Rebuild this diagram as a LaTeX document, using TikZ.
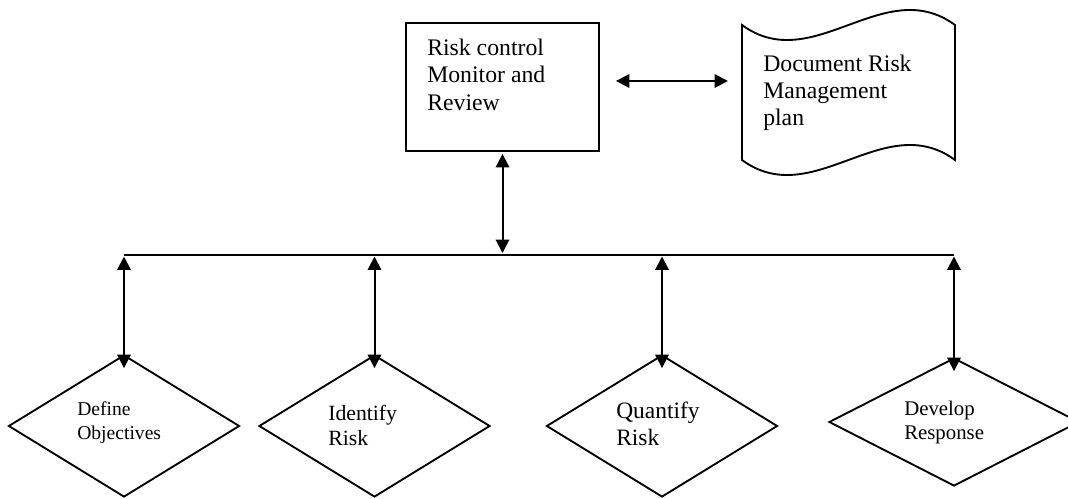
\documentclass[tikz,border=0pt]{standalone}
\usepackage{fontspec}
\setmainfont{Liberation Serif}
\usetikzlibrary{arrows.meta, positioning, shapes.geometric, calc}

\tikzset{
  flowline/.style={line width=1.5pt, line join=round},
  twoway/.style={flowline, {Triangle[length=10pt,width=10pt]}-{Triangle[length=10pt,width=10pt]}},
  stepdiamond/.style={draw, diamond, line width=1.4pt, inner sep=0pt, minimum width=173.25pt, minimum height=106.5pt},
  plaintext/.style={inner sep=0pt, align=left, anchor=north west},
}

\begin{document}
\begin{tikzpicture}[x=0.75pt, y=-0.75pt]
	\useasboundingbox (0,0) rectangle (1068,499);
	% top row
	\node[draw, line width=1.4pt, minimum width=144.75pt, minimum height=96pt] (ctrl) at (502.5,87) {};
	\node[plaintext, font={\fontsize{17.8pt}{20.6pt}\selectfont}] (ctrlTxt) at (427,38.7) {Risk control\\Monitor and\\Review};
	\draw[line width=1.4pt] (742,25) .. controls (813,77) and (884,-27) .. (955,25) -- (955,160)
		.. controls (884,108) and (813,212) .. (742,160) -- cycle;
	\coordinate (docW) at (742,81);
	\node[plaintext, font={\fontsize{17.8pt}{20.2pt}\selectfont}] (docTxt) at (763,54.5) {Document Risk\\Management\\plan};
	\draw[twoway] ($(ctrl.east)+(16,-6)$) -- ($(docW)+(-14,0)$);
	% bus
	\coordinate (hub) at (502.5,255);
	\draw[twoway] ($(ctrl.south)+(0,2)$) -- ($(hub)+(0,-2)$);
	% steps
	\node[stepdiamond] (def) at (124,426) {};
	\node[stepdiamond] (idf) at (374.5,426) {};
	\node[stepdiamond] (qty) at (662,426) {};
	\node[stepdiamond, minimum width=187.5pt, minimum height=96pt] (dev) at (954,422) {};
	\node[plaintext, font={\fontsize{14.7pt}{18pt}\selectfont}] (defTxt) at (77,401.6) {Define\\Objectives};
	\node[plaintext, font={\fontsize{16.3pt}{18.8pt}\selectfont}] (idfTxt) at (328,405) {Identify\\Risk};
	\node[plaintext, font={\fontsize{17.6pt}{20.2pt}\selectfont}] (qtyTxt) at (616,402) {Quantify\\Risk};
	\node[plaintext, font={\fontsize{15.6pt}{18pt}\selectfont}] (devTxt) at (904,400.7) {Develop\\Response};
	\draw[flowline] (def.north |- hub) -- (dev.north |- hub);
	\foreach \s in {def,idf,qty,dev}
	{
		\draw[twoway] ($(\s.north |- hub)+(0,1.5)$) -- ($(\s.north)+(0,14)$);
	}
\end{tikzpicture}
\end{document}
